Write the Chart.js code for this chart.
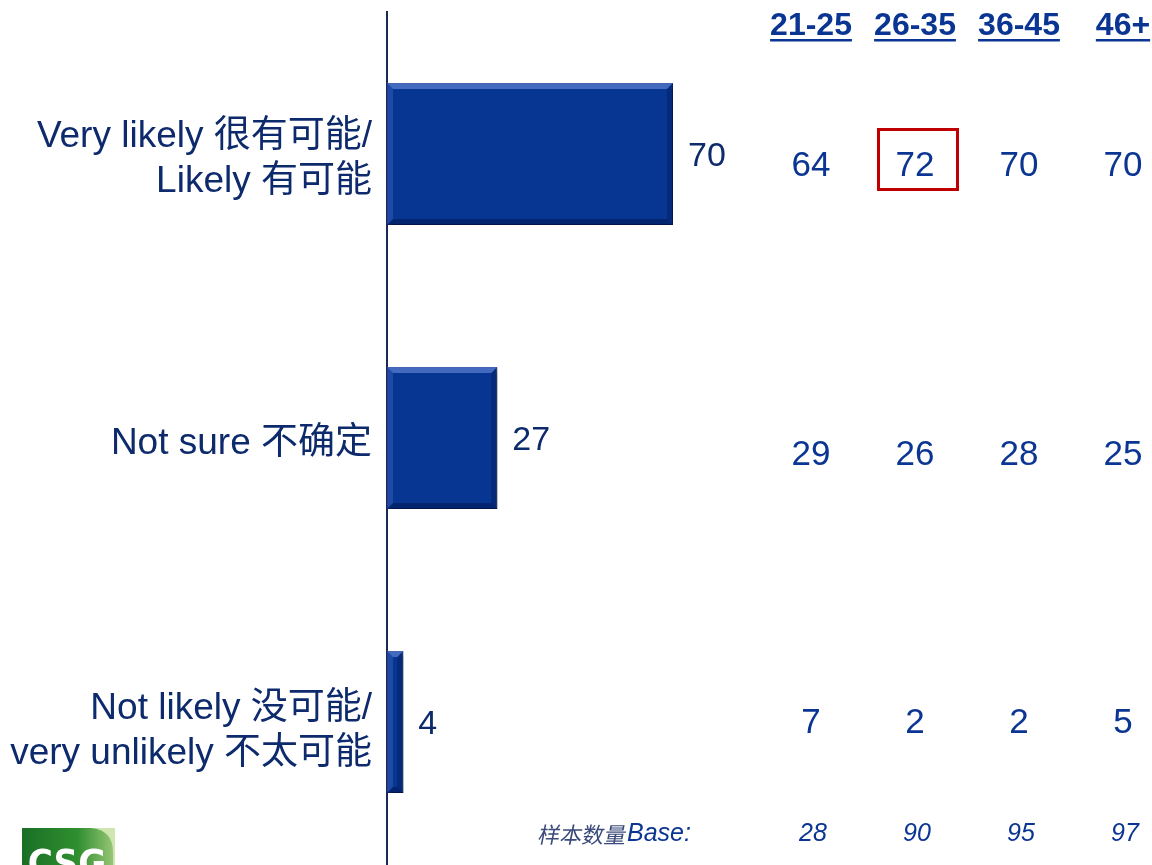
<!DOCTYPE html>
<html>
<head>
<meta charset="utf-8">
<script src="https://cdn.jsdelivr.net/npm/chart.js@4.4.1/dist/chart.umd.min.js"></script>
<style>
html,body{margin:0;padding:0;background:#fff;}
#wrap{position:relative;width:1152px;height:865px;}
</style>
</head>
<body>
<div id="wrap"><canvas id="c" width="1152" height="865"></canvas></div>
<script>
// ---- data ----
const categories = [
  ["Very likely 很有可能/", "Likely 有可能"],
  ["Not sure 不确定"],
  ["Not likely 没可能/", "very unlikely 不太可能"]
];
const totalValues = [70, 27, 4];
const ageGroups = ["21-25", "26-35", "36-45", "46+"];
const age21_25 = [64, 29, 7];
const age26_35 = [72, 26, 2];
const age36_45 = [70, 28, 2];
const age46plus = [70, 25, 5];
const baseLabel = "Base:";
const baseLabelCn = "样本数量";
const baseCounts = [28, 90, 95, 97];
const highlight = {col: 1, row: 0}; // 72 boxed

const ageTable = [age21_25, age26_35, age36_45, age46plus];

// ---- style ----
const labelColor = '#0d2a6c';
const tableColor = '#0a3592';
const colX = [811, 915, 1019, 1123];
const rowOffsets = [12, 17, 1];
const labelOffsets = [5.5, 5.5, 9];
const SANS = '"Liberation Sans", Arial, "Noto Sans CJK SC", sans-serif';

const overlay = {
  id: 'overlay',
  beforeDatasetsDraw(chart) {
    const ctx = chart.ctx;
    ctx.save();
    ctx.shadowColor = 'rgba(0,0,0,0.35)';
    ctx.shadowOffsetX = 3;
    ctx.shadowOffsetY = 4;
    ctx.shadowBlur = 5;
    chart._shadowSaved = true;
  },
  afterDatasetsDraw(chart) {
    const ctx = chart.ctx;
    if (chart._shadowSaved) { ctx.restore(); chart._shadowSaved = false; }
    const meta = chart.getDatasetMeta(0);
    const ys = chart.scales.y;
    // bevels
    meta.data.forEach((bar) => {
      const x0 = bar.base, x1 = bar.x;
      const y0 = bar.y - bar.height / 2, y1 = bar.y + bar.height / 2;
      const b = Math.min(6, (x1 - x0) / 2);
      ctx.save();
      ctx.fillStyle = 'rgba(120,150,230,0.55)';
      ctx.beginPath(); ctx.moveTo(x0, y0); ctx.lineTo(x1, y0); ctx.lineTo(x1 - b, y0 + b); ctx.lineTo(x0 + b, y0 + b); ctx.closePath(); ctx.fill();
      ctx.fillStyle = 'rgba(90,120,210,0.3)';
      ctx.beginPath(); ctx.moveTo(x0, y0); ctx.lineTo(x0 + b, y0 + b); ctx.lineTo(x0 + b, y1 - b); ctx.lineTo(x0, y1); ctx.closePath(); ctx.fill();
      ctx.fillStyle = 'rgba(0,15,60,0.4)';
      ctx.beginPath(); ctx.moveTo(x0, y1); ctx.lineTo(x0 + b, y1 - b); ctx.lineTo(x1 - b, y1 - b); ctx.lineTo(x1, y1); ctx.closePath(); ctx.fill();
      ctx.fillStyle = 'rgba(0,15,60,0.3)';
      ctx.beginPath(); ctx.moveTo(x1, y0); ctx.lineTo(x1, y1); ctx.lineTo(x1 - b, y1 - b); ctx.lineTo(x1 - b, y0 + b); ctx.closePath(); ctx.fill();
      ctx.restore();
    });
    ctx.save();
    // category labels
    ctx.fillStyle = labelColor;
    ctx.font = '37px ' + SANS;
    ctx.textAlign = 'right';
    ctx.textBaseline = 'middle';
    const lh = 45;
    categories.forEach((lines, i) => {
      const cy = ys.getPixelForValue(i) + labelOffsets[i];
      const start = cy - (lines.length - 1) * lh / 2;
      lines.forEach((t, k) => ctx.fillText(t, chart.chartArea.left - 15, start + k * lh));
    });
    // bar value labels
    ctx.font = '34px ' + SANS;
    ctx.textAlign = 'left';
    meta.data.forEach((bar, i) => {
      ctx.fillText(String(totalValues[i]), bar.x + 15, bar.y + 3);
    });
    // headers
    ctx.fillStyle = tableColor;
    ctx.font = 'bold 32px ' + SANS;
    ctx.textAlign = 'center';
    ctx.textBaseline = 'alphabetic';
    ageGroups.forEach((g, c) => {
      ctx.fillText(g, colX[c], 35);
      const w = ctx.measureText(g).width;
      ctx.fillRect(colX[c] - w / 2, 39, w, 2.5);
    });
    // table values
    ctx.font = '35px ' + SANS;
    ctx.textBaseline = 'middle';
    ageTable.forEach((col, c) => {
      col.forEach((v, r) => {
        const y = ys.getPixelForValue(r) + rowOffsets[r];
        ctx.fillText(String(v), colX[c], y);
      });
    });
    // highlight box
    {
      const y = ys.getPixelForValue(highlight.row) + rowOffsets[highlight.row];
      ctx.strokeStyle = '#c00000';
      ctx.lineWidth = 3;
      ctx.strokeRect(colX[highlight.col] - 36.5, y - 36.5, 79, 60);
    }
    // base row
    ctx.textBaseline = 'alphabetic';
    ctx.textAlign = 'left';
    ctx.fillStyle = '#3a4a7a';
    ctx.font = '22px "Noto Sans CJK SC", sans-serif';
    ctx.save();
    ctx.translate(537, 843);
    ctx.transform(1, 0, -0.2, 1, 0, 0);
    ctx.fillText(baseLabelCn, 0, 0);
    const cnW = ctx.measureText(baseLabelCn).width;
    ctx.restore();
    ctx.fillStyle = tableColor;
    ctx.font = 'italic 25px ' + SANS;
    ctx.fillText(baseLabel, 537 + cnW + 2, 841);
    ctx.textAlign = 'center';
    baseCounts.forEach((n, c) => ctx.fillText(String(n), colX[c] + 2, 841));
    // logo
    const lx = 22, ly = 828, lw = 93, lhh = 40;
    const grad = ctx.createLinearGradient(lx, 0, lx + lw, 0);
    grad.addColorStop(0, '#1a6f25');
    grad.addColorStop(0.6, '#2f8f30');
    grad.addColorStop(1, '#9cc878');
    ctx.fillStyle = '#cfe6b0';
    ctx.fillRect(lx, ly, lw, lhh);
    ctx.fillStyle = grad;
    ctx.beginPath();
    ctx.moveTo(lx, ly);
    ctx.lineTo(lx + lw - 24, ly);
    ctx.quadraticCurveTo(lx + lw - 2, ly + 2, lx + lw - 2, ly + 24);
    ctx.lineTo(lx + lw - 2, ly + lhh);
    ctx.lineTo(lx, ly + lhh);
    ctx.closePath();
    ctx.fill();
    ctx.fillStyle = '#ffffff';
    ctx.font = 'bold 38px "Liberation Sans Narrow", "DejaVu Sans Condensed", sans-serif';
    ctx.textAlign = 'center';
    ctx.fillText('CSG', lx + 45, ly + 48);
    ctx.restore();
  }
};

new Chart(document.getElementById('c'), {
  type: 'bar',
  data: {
    labels: categories,
    datasets: [{
      data: totalValues,
      backgroundColor: '#063592',
      borderColor: '#0a2a78',
      borderWidth: 1,
      borderSkipped: false,
      barPercentage: 0.5,
      categoryPercentage: 1.0
    }]
  },
  options: {
    indexAxis: 'y',
    responsive: false,
    animation: false,
    devicePixelRatio: 1,
    layout: { padding: { top: 12, bottom: 1, left: 0, right: 356.4 } },
    plugins: { legend: { display: false }, tooltip: { enabled: false } },
    scales: {
      x: { display: false, min: 0, max: 100 },
      y: {
        grid: { display: false, drawTicks: false },
        border: { display: true, color: '#1b2a55', width: 2 },
        ticks: { display: false },
        afterFit(scale) {
          scale.width = 387;
          scale.paddingTop = 0;
          scale.paddingBottom = 0;
        }
      }
    }
  },
  plugins: [overlay]
});
</script>
</body>
</html>
